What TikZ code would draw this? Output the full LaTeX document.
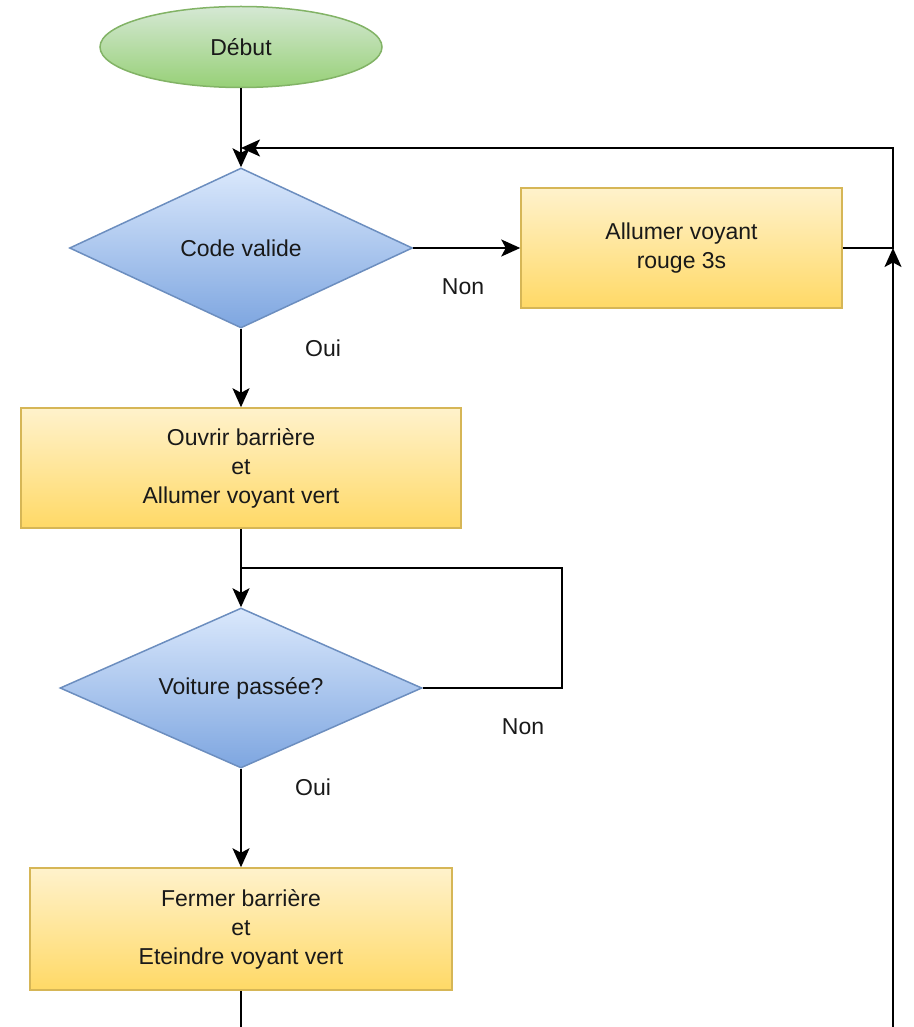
\documentclass[tikz,border=0pt]{standalone}
\usepackage{fontspec}
\setmainfont{Liberation Sans}
\usetikzlibrary{shapes.geometric,arrows.meta}
\definecolor{gfill1}{HTML}{D5E8D4}\definecolor{gfill2}{HTML}{97D077}\definecolor{gline}{HTML}{82B366}
\definecolor{bfill1}{HTML}{DAE8FC}\definecolor{bfill2}{HTML}{7EA6E0}\definecolor{bline}{HTML}{6C8EBF}
\definecolor{yfill1}{HTML}{FFF2CC}\definecolor{yfill2}{HTML}{FFD966}\definecolor{yline}{HTML}{D6B656}
\tikzset{
  txt/.style={font=\fontsize{23}{29}\selectfont, align=center, inner sep=0pt, text=black!90},
  startnode/.style={txt, ellipse, draw=gline, line width=1.5pt, top color=gfill1, bottom color=gfill2},
  decision/.style={diamond, inner sep=0pt, draw=bline, line width=1.5pt, top color=bfill1, bottom color=bfill2,
    label={[txt]center:#1}},
  process/.style={txt, rectangle, draw=yline, line width=1.5pt, top color=yfill1, bottom color=yfill2},
  conn/.style={line width=2pt, -{Stealth[length=19pt,width=17pt,inset=4.5pt]}},
  plain/.style={line width=2pt},
  lab/.style={txt}
}
\begin{document}
\begin{tikzpicture}[x=1pt,y=-1pt]
\useasboundingbox (0,0) rectangle (913,1027);
\node[startnode, minimum width=282pt, minimum height=81pt] (debut) at (241,47) {Début};
\node[decision={Code valide}, minimum width=343pt, minimum height=160pt] (d1) at (241,248) {};
\node[process, minimum width=321pt, minimum height=120pt] (b2) at (681.5,248) {Allumer voyant\\rouge 3s};
\node[process, minimum width=440pt, minimum height=120pt] (b3) at (241,468) {Ouvrir barrière\\et\\Allumer voyant vert};
\node[decision={Voiture passée?}, minimum width=362pt, minimum height=160pt] (d2) at (241,688) {};
\node[process, minimum width=422pt, minimum height=122pt] (b4) at (241,929) {Fermer barrière\\et\\Eteindre voyant vert};

\coordinate (r1) at (893,248);
\coordinate (j1) at (241,148);
\coordinate (j2) at (241,568);
\coordinate (cbot1) at (241,1027);
\coordinate (cbot2) at (893,1027);

\draw[conn] (debut.south) -- (d1.north);
\draw[conn] (b2.east) -- (r1) |- (j1);
\draw[conn] (cbot2) -- (r1);
\draw[conn] (d1.east) -- (b2.west);
\draw[conn] (d1.south) -- (b3.north);
\draw[conn] (b3.south) -- (d2.north);
\draw[plain] (d2.east) -- (562,688) |- (j2);
\draw[conn] (d2.south) -- (b4.north);
\draw[plain] (b4.south) -- (cbot1);

\node[lab] (l1) at (463,287) {Non};
\node[lab] (l2) at (323,348) {Oui};
\node[lab] (l3) at (523,727) {Non};
\node[lab] (l4) at (313,787) {Oui};
\end{tikzpicture}
\end{document}
